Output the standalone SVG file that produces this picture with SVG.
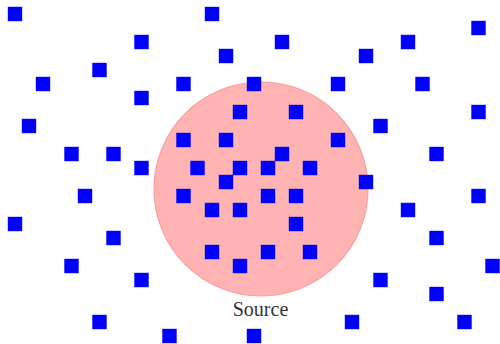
<svg xmlns="http://www.w3.org/2000/svg" width="500" height="344" viewBox="0 0 500 344">
  <style>
    .src { fill: #ffb3b3; stroke: #ff9c9c; stroke-width: 1.2; }
    .label { font-family: "Liberation Serif", "DejaVu Serif", serif; font-size: 20px; fill: #333; }
    .pt { fill: #0000ff; }
  </style>
  <defs>
    <rect id="sq" x="-7.2" y="-7.2" width="14.4" height="14.4" class="pt"/>
  </defs>
  <rect width="500" height="344" fill="#ffffff"/>
  <g id="source">
    <circle class="src" cx="261" cy="189" r="107"/>
    <text class="label" x="260.5" y="316" text-anchor="middle">Source</text>
  </g>
  <g id="points">
    <use href="#sq" x="15" y="14"/>
    <use href="#sq" x="212" y="14"/>
    <use href="#sq" x="478.5" y="28"/>
    <use href="#sq" x="141.5" y="42"/>
    <use href="#sq" x="282" y="42"/>
    <use href="#sq" x="408" y="42"/>
    <use href="#sq" x="226" y="56"/>
    <use href="#sq" x="366" y="56"/>
    <use href="#sq" x="99.5" y="70"/>
    <use href="#sq" x="43" y="84"/>
    <use href="#sq" x="183.5" y="84"/>
    <use href="#sq" x="254" y="84"/>
    <use href="#sq" x="338" y="84"/>
    <use href="#sq" x="422.5" y="84"/>
    <use href="#sq" x="141.5" y="98"/>
    <use href="#sq" x="240" y="112"/>
    <use href="#sq" x="296" y="112"/>
    <use href="#sq" x="478.5" y="112"/>
    <use href="#sq" x="29" y="126"/>
    <use href="#sq" x="380.5" y="126"/>
    <use href="#sq" x="183.5" y="140"/>
    <use href="#sq" x="226" y="140"/>
    <use href="#sq" x="338" y="140"/>
    <use href="#sq" x="71.5" y="154"/>
    <use href="#sq" x="113.5" y="154"/>
    <use href="#sq" x="282" y="154"/>
    <use href="#sq" x="436.5" y="154"/>
    <use href="#sq" x="141.5" y="168"/>
    <use href="#sq" x="197.5" y="168"/>
    <use href="#sq" x="240" y="168"/>
    <use href="#sq" x="268" y="168"/>
    <use href="#sq" x="310" y="168"/>
    <use href="#sq" x="226" y="182"/>
    <use href="#sq" x="366" y="182"/>
    <use href="#sq" x="85" y="196"/>
    <use href="#sq" x="183.5" y="196"/>
    <use href="#sq" x="268" y="196"/>
    <use href="#sq" x="296" y="196"/>
    <use href="#sq" x="478.5" y="196"/>
    <use href="#sq" x="212" y="210"/>
    <use href="#sq" x="240" y="210"/>
    <use href="#sq" x="408" y="210"/>
    <use href="#sq" x="15" y="224"/>
    <use href="#sq" x="296" y="224"/>
    <use href="#sq" x="113.5" y="238"/>
    <use href="#sq" x="436.5" y="238"/>
    <use href="#sq" x="212" y="252"/>
    <use href="#sq" x="268" y="252"/>
    <use href="#sq" x="310" y="252"/>
    <use href="#sq" x="71.5" y="266"/>
    <use href="#sq" x="240" y="266"/>
    <use href="#sq" x="492.5" y="266"/>
    <use href="#sq" x="141.5" y="280"/>
    <use href="#sq" x="380.5" y="280"/>
    <use href="#sq" x="436.5" y="294"/>
    <use href="#sq" x="99.5" y="322"/>
    <use href="#sq" x="352" y="322"/>
    <use href="#sq" x="464.5" y="322"/>
    <use href="#sq" x="169.5" y="336"/>
    <use href="#sq" x="254" y="336"/>
  </g>
</svg>
